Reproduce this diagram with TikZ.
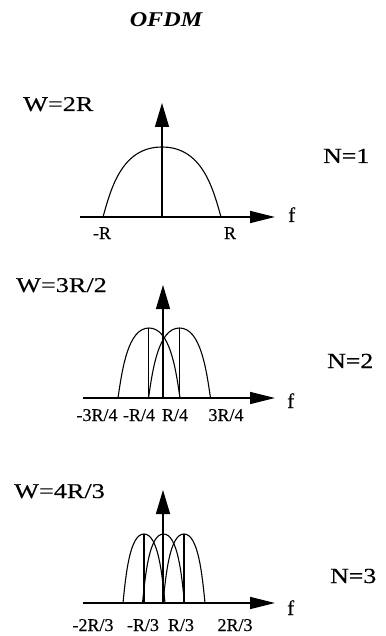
\documentclass[tikz,border=0pt]{standalone}
\usepackage{fontspec}
\setmainfont[FakeBold=0.35]{Liberation Serif}
\newfontfamily\wfont[FakeStretch=1.25,FakeBold=0.35]{Liberation Serif}
\newfontfamily\nfont[FakeStretch=1.2,FakeBold=0.35]{Liberation Serif}
\newfontfamily\tfont[FakeStretch=1.0,FakeBold=0.35]{Liberation Serif}
\newfontfamily\ofont[FakeStretch=1.15]{Liberation Serif}
\usetikzlibrary{arrows.meta}
\newcommand\lobe[4]{%
  \draw[curve] (#1-#2,#3) .. controls (#1-0.864*#2,#3-0.41*#4) and (#1-0.68*#2,#3-#4) .. (#1,#3-#4)
    .. controls (#1+0.68*#2,#3-#4) and (#1+0.864*#2,#3-0.41*#4) .. (#1+#2,#3);}
\tikzset{
  curve/.style={line width=1.1pt},
  stem/.style={line width=1.1pt},
  vaxis/.style={line width=1.4pt,-{Triangle[length=24pt,width=14pt]}},
  haxis/.style={line width=1.4pt,-{Triangle[length=25pt,width=12pt]}},
  wlab/.style={anchor=base west,inner sep=0pt,font=\wfont\fontsize{21}{23}\selectfont},
  nlab/.style={anchor=base west,inner sep=0pt,font=\nfont\fontsize{21.5}{23}\selectfont},
  flab/.style={anchor=base west,inner sep=0pt,font=\fontsize{21}{23}\selectfont},
  tlab/.style={anchor=base,inner sep=0pt,font=\tfont\fontsize{18}{20}\selectfont},
}
\begin{document}
\begin{tikzpicture}[x=1pt,y=-1pt]
\useasboundingbox (0,0) rectangle (385,636);
% title
\node[anchor=base,inner sep=0pt,font=\ofont\bfseries\itshape\fontsize{21}{23}\selectfont] (title) at (166,27) {OFDM};

% ---------- panel 1 ----------
\coordinate (o1) at (162,217);
\coordinate (v1) at (162,103);
\coordinate (h1s) at (80,217);
\coordinate (h1e) at (275,217);
\lobe{162}{59}{217}{70}
\draw[vaxis] (o1) -- (v1);
\draw[haxis] (h1s) -- (h1e);
\node[wlab] (w1) at (23,111) {W=2R};
\node[nlab] (n1) at (323,163) {N=1};
\node[flab] (f1) at (288,222) {f};
\node[tlab] (t1a) at (102,239) {-R};
\node[tlab] (t1b) at (230,239) {R};

% ---------- panel 2 ----------
\coordinate (o2) at (163,398);
\coordinate (v2) at (163,285);
\coordinate (h2s) at (83,398);
\coordinate (h2e) at (275,398);
\lobe{149}{31}{398}{70}
\lobe{179.5}{31}{398}{70}
\coordinate (s2a) at (148.5,398);
\coordinate (s2at) at (148.5,328);
\coordinate (s2b) at (179.5,398);
\coordinate (s2bt) at (179.5,328);
\draw[stem] (s2a) -- (s2at);
\draw[stem] (s2b) -- (s2bt);
\draw[vaxis] (o2) -- (v2);
\draw[haxis] (h2s) -- (h2e);
\node[wlab] (w2) at (16,292) {W=3R/2};
\node[nlab] (n2) at (327,368) {N=2};
\node[flab] (f2) at (287,408) {f};
\node[tlab] (t2a) at (97,421) {-3R/4};
\node[tlab] (t2b) at (139,421) {-R/4};
\node[tlab] (t2c) at (175,421) {R/4};
\node[tlab] (t2d) at (226,421) {3R/4};

% ---------- panel 3 ----------
\coordinate (o3) at (163,603);
\coordinate (v3) at (163,490);
\coordinate (h3s) at (83,603);
\coordinate (h3e) at (275,603);
\lobe{144}{21}{603}{69}
\lobe{163.5}{21}{603}{69}
\lobe{184}{21}{603}{69}
\coordinate (s3a) at (144,603);
\coordinate (s3at) at (144,534);
\coordinate (s3b) at (184,603);
\coordinate (s3bt) at (184,534);
\draw[stem] (s3a) -- (s3at);
\draw[stem] (s3b) -- (s3bt);
\draw[vaxis] (o3) -- (v3);
\draw[haxis] (h3s) -- (h3e);
\node[wlab] (w3) at (14,498) {W=4R/3};
\node[nlab] (n3) at (330,583) {N=3};
\node[flab] (f3) at (287,615) {f};
\node[tlab] (t3a) at (93,631) {-2R/3};
\node[tlab] (t3b) at (143,631) {-R/3};
\node[tlab] (t3c) at (181,631) {R/3};
\node[tlab] (t3d) at (235,631) {2R/3};
\end{tikzpicture}
\end{document}
